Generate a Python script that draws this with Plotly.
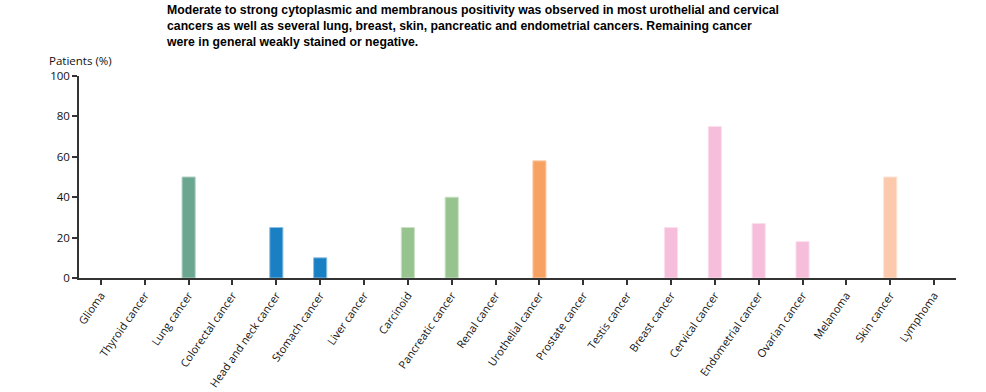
import plotly.graph_objects as go

categories = ["Glioma", "Thyroid cancer", "Lung cancer", "Colorectal cancer", "Head and neck cancer",
              "Stomach cancer", "Liver cancer", "Carcinoid", "Pancreatic cancer", "Renal cancer",
              "Urothelial cancer", "Prostate cancer", "Testis cancer", "Breast cancer", "Cervical cancer",
              "Endometrial cancer", "Ovarian cancer", "Melanoma", "Skin cancer", "Lymphoma"]
values = [0, 0, 50, 0, 25, 10, 0, 25, 40, 0, 58, 0, 0, 25, 75, 27, 18, 0, 50, 0]
colors = ["#6aa690", "#6aa690", "#6aa690", "#1a80c4", "#1a80c4", "#1a80c4", "#96c38e", "#96c38e",
          "#96c38e", "#f7a263", "#f7a263", "#f7a263", "#f7a263", "#f7bedb", "#f7bedb", "#f7bedb",
          "#f7bedb", "#fdc9ad", "#fdc9ad", "#fdc9ad"]
border = ["#b3d1c6", "#b3d1c6", "#b3d1c6", "#8cbfe1", "#8cbfe1", "#8cbfe1", "#cbe1c6", "#cbe1c6",
          "#cbe1c6", "#fbd0b1", "#fbd0b1", "#fbd0b1", "#fbd0b1", "#fbdfed", "#fbdfed", "#fbdfed",
          "#fbdfed", "#fee4d6", "#fee4d6", "#fee4d6"]
yticks = [0, 20, 40, 60, 80, 100]
title_text = ("Moderate to strong cytoplasmic and membranous positivity was observed in most urothelial and cervical<br>"
              "cancers as well as several lung, breast, skin, pancreatic and endometrial cancers. Remaining cancer<br>"
              "were in general weakly stained or negative.")

line_widths = [1 if v > 0 else 0 for v in values]

fig = go.Figure(go.Bar(
    x=categories, y=values, width=0.3,
    marker=dict(color=colors, line=dict(color=border, width=line_widths)),
))

fig.update_layout(
    width=986, height=392,
    margin=dict(l=79, r=30, t=76, b=114, autoexpand=False),
    plot_bgcolor="white", paper_bgcolor="white",
    showlegend=False,
    font=dict(family="Open Sans, Noto Sans, sans-serif", size=11, color="#111"),
    xaxis=dict(range=[-0.5, 19.5], showline=True, linecolor="#333", linewidth=1.5,
               ticks="outside", ticklen=5, tickcolor="#333", tickwidth=1.5, automargin=False,
               tickangle=-55, showgrid=False, tickfont=dict(size=11)),
    yaxis=dict(range=[0, 100], tickvals=yticks, showline=True, linecolor="#333", linewidth=1.5,
               ticks="outside", ticklen=5, tickcolor="#333", tickwidth=1.5, automargin=False,
               showgrid=False, zeroline=False, tickfont=dict(size=11.5)),
    annotations=[
        dict(text=title_text, xref="paper", yref="paper", x=(164 - 79) / 877, y=(278 - 1) / 202,
             xanchor="left", yanchor="top", align="left", showarrow=False,
             font=dict(family="Liberation Sans, Arial, sans-serif", size=12.25, color="black", weight="bold")),
        dict(text="Patients (%)", xref="paper", yref="paper", x=(47 - 79) / 877, y=(278 - 61) / 202,
             xanchor="left", yanchor="middle", showarrow=False,
             font=dict(size=11.5, color="#111")),
    ],
)

fig.write_html("out.html", config={"displayModeBar": False},
               post_script="document.body.style.margin='0';")
